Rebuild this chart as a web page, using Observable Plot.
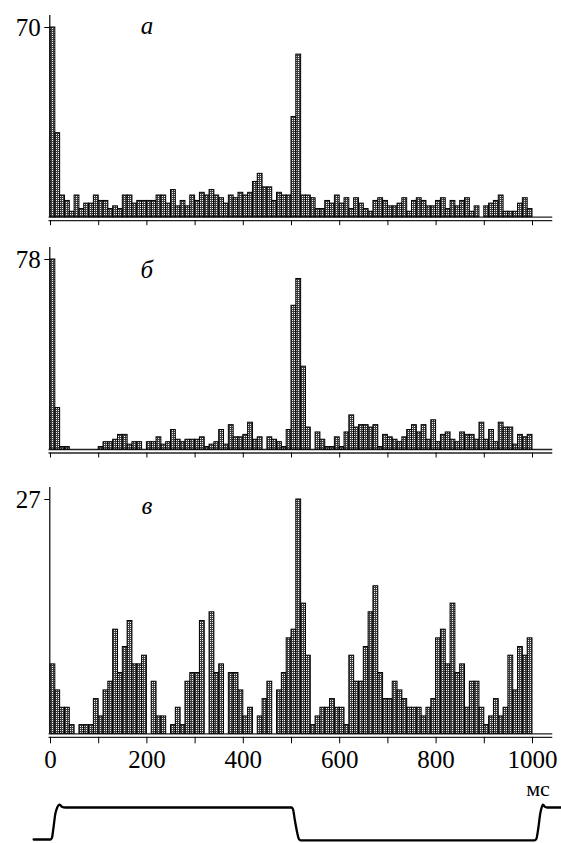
<!DOCTYPE html>
<html><head><meta charset="utf-8">
<script src="https://cdn.jsdelivr.net/npm/d3@7"></script>
<script src="https://cdn.jsdelivr.net/npm/@observablehq/plot@0.6"></script>
<style>
body{margin:0;background:#fff;}
#wrap{position:relative;width:561px;height:843px;overflow:hidden;}
#wrap svg{position:absolute;left:0;overflow:visible;}
#wrap svg text{font-family:'Liberation Serif','Times New Roman',serif !important;}
</style></head><body>
<div id="wrap"></div>
<script>
// 10-ms bins, 0..1000 ms
const binStarts = d3.range(0, 1000, 10);

const countsA = [
70,31,8,6,2,8,3,5,5,8,
6,6,3,4,3,8,8,5,6,6,
6,6,8,8,5,10,4,6,4,8,
6,9,8,10,8,7,5,8,7,9,
8,9,13,16,11,11,6,9,8,8,
37,60,8,8,7,3,3,6,5,8,
5,7,3,7,5,3,2,6,7,6,
4,4,5,7,2,6,7,6,4,4,
6,7,3,6,4,6,7,2,4,0,
4,5,6,8,2,2,2,5,7,3];

const countsB = [
78,17,1,1,0,0,0,0,0,0,
1,3,3,4,6,6,2,3,3,0,
3,3,5,2,3,8,4,3,4,4,
4,5,1,2,3,8,2,10,5,5,
6,11,4,5,0,5,4,3,1,8,
59,70,34,9,0,7,4,1,1,5,
1,7,14,9,10,10,9,10,1,6,
5,4,3,5,8,10,7,10,4,12,
3,6,7,4,3,7,6,6,4,11,
4,8,3,11,9,9,2,6,5,6];

const countsC = [
8,5,3,3,1,0,1,1,1,4,
2,5,6,12,7,10,13,8,8,9,
0,6,2,2,0,1,3,1,6,7,
7,13,0,14,7,8,0,7,7,5,
2,3,0,2,4,6,0,5,7,11,
12,27,15,9,1,2,3,3,4,3,
3,1,9,6,6,10,14,17,7,4,
4,6,5,4,3,3,3,2,3,4,
11,12,8,15,7,8,3,6,6,3,
1,2,4,2,3,9,5,10,9,11];

const panelLetters = ["а", "б", "в"];
const yTickValues = [70, 78, 27];
const xTicks = d3.range(0, 1001, 100);
const xTickLabels = [0, 200, 400, 600, 800, 1000];
const unitLabel = "мс";

// stimulus trace (ms, relative level)
const stimT = [-35, 0, 3, 6, 10, 14, 19, 24, 31, 500, 503, 507, 512, 516, 520, 1004, 1008, 1012, 1016, 1019, 1022, 1026, 1030, 1059];
const stimV = [0, 0, 0.05, 0.35, 0.8, 1.0, 1.09, 1.02, 1.0, 1.0, 0.95, 0.6, 0.2, 0.0, -0.03, -0.03, 0.02, 0.35, 0.8, 1.0, 1.09, 1.02, 1.0, 1.0];

const FONT = "'Liberation Serif', 'Times New Roman', serif";
const STYLE = "font-family:'Liberation Serif','Times New Roman',serif;font-size:25px;color:#000;background:transparent;overflow:visible;";
const wrap = document.getElementById("wrap");

function panel({id, counts, ymax, letter, top, height, mTop, mBottom, letterDy, labels, tickSize}) {
  const data = binStarts.map((x, i) => ({x1: x, x2: x + 10, y: counts[i]}));
  const plotH = height - mTop - mBottom;
  const pid = "dots-" + id;
  const svg = Plot.plot({
    width: 561, height,
    marginLeft: 50, marginRight: 29, marginTop: mTop, marginBottom: mBottom,
    x: {domain: [0, 1000], label: null},
    y: {domain: [0, ymax], label: null},
    style: STYLE,
    marks: [
      Plot.ruleY([0], {x1: -3, x2: 1042, stroke: "#222", strokeWidth: 1.3}),
      Plot.ruleY([0], {x1: -3, x2: 1042, stroke: "#222", strokeWidth: 1.3, dy: 3.5}),
      Plot.rectY(data, {x1: "x1", x2: "x2", y: "y", fill: "#6e6e6e", stroke: "#000", strokeWidth: 1, className: "bars"}),
      Plot.ruleX([0], {y1: 0, y2: ymax * (1 + 12 / plotH), stroke: "#000", strokeWidth: 1.2, dx: -0.7}),
      Plot.axisY({ticks: [ymax], tickSize: 5, tickPadding: 4, fontSize: 25, fontFamily: FONT, label: null, dx: -0.7}),
      Plot.axisX({ticks: xTicks, tickSize, tickPadding: 6, dy: 3.5, fontSize: 25, fontFamily: FONT, label: null,
        tickFormat: labels ? (d => xTickLabels.includes(d) ? String(d) : "") : (() => "")}),
      Plot.text([letter], {x: 200, y: ymax, fontStyle: "italic", fontSize: 25, fontFamily: FONT, dy: letterDy})
    ]
  });
  // dotted fill pattern for the bars
  const defs = d3.select(svg).insert("defs", ":first-child");
  const pat = defs.append("pattern").attr("id", pid).attr("width", 2).attr("height", 2).attr("patternUnits", "userSpaceOnUse");
  pat.append("rect").attr("width", 2).attr("height", 2).attr("fill", "#3e3e3e");
  pat.append("rect").attr("width", 1).attr("height", 1).attr("fill", "#f4f4f4");
  d3.select(svg).selectAll("g.bars rect").attr("fill", `url(#${pid})`);
  svg.style.top = top + "px";
  wrap.appendChild(svg);
}

panel({id: "a", counts: countsA, ymax: yTickValues[0], letter: panelLetters[0], top: 0, height: 232, mTop: 27, mBottom: 15.3, letterDy: -2, labels: false, tickSize: 5});
panel({id: "b", counts: countsB, ymax: yTickValues[1], letter: panelLetters[1], top: 232, height: 228, mTop: 27, mBottom: 11, letterDy: 10, labels: false, tickSize: 5});
panel({id: "c", counts: countsC, ymax: yTickValues[2], letter: panelLetters[2], top: 460, height: 320, mTop: 39, mBottom: 46.7, letterDy: 6, labels: true, tickSize: 6.5});

const stim = stimT.map((t, i) => ({t, v: stimV[i]}));
const s = Plot.plot({
  width: 561, height: 63,
  marginLeft: 50, marginRight: 29, marginTop: 27, marginBottom: 4,
  x: {domain: [0, 1000], axis: null},
  y: {domain: [0, 1], axis: null},
  style: STYLE,
  marks: [
    Plot.line(stim, {x: "t", y: "v", stroke: "#000", strokeWidth: 2.3, curve: "monotone-x"}),
    Plot.text([unitLabel], {frameAnchor: "top-right", textAnchor: "middle", lineAnchor: "middle", dx: 5.5, dy: -19, fontSize: 22, fontFamily: FONT})
  ]
});
s.style.top = "780px";
wrap.appendChild(s);
</script>
</body></html>
